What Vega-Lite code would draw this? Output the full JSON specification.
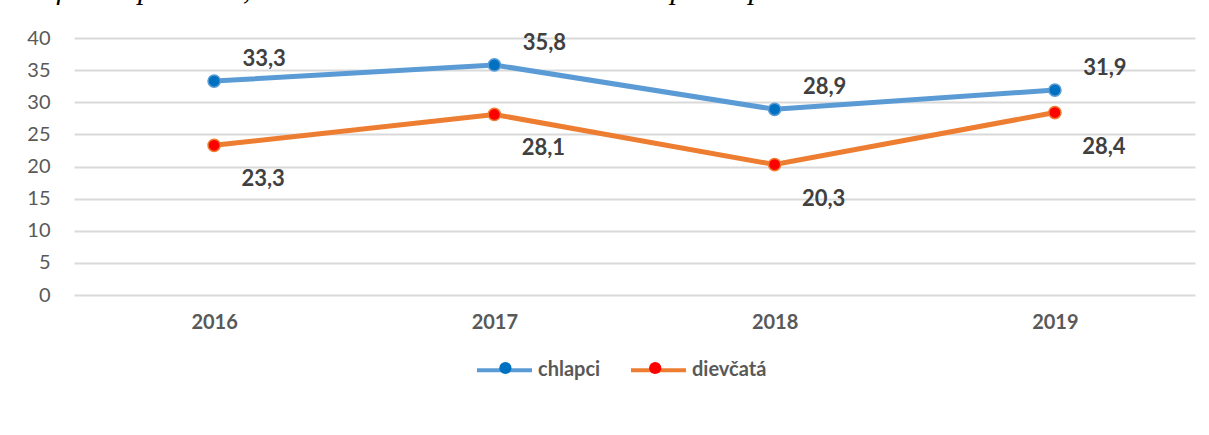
{
  "$schema": "https://vega.github.io/schema/vega-lite/v6.json",
  "width": 1121,
  "height": 257,
  "autosize": {"type": "none"},
  "padding": {"left": 74, "top": 38, "right": 14, "bottom": 140},
  "background": "white",
  "title": {
    "text": "Graf 5 Respondenti, ktorí sa kamarátili s extrémistami podľa pohlavia",
    "anchor": "start",
    "frame": "group",
    "orient": "top",
    "baseline": "alphabetic",
    "offset": -1,
    "dx": -66,
    "font": "Liberation Serif",
    "fontStyle": "italic",
    "fontWeight": "normal",
    "fontSize": 30,
    "color": "#000000"
  },
  "data": {
    "values": [
      {"rok": "2016", "pohlavie": "chlapci", "hodnota": 33.3},
      {"rok": "2017", "pohlavie": "chlapci", "hodnota": 35.8},
      {"rok": "2018", "pohlavie": "chlapci", "hodnota": 28.9},
      {"rok": "2019", "pohlavie": "chlapci", "hodnota": 31.9},
      {"rok": "2016", "pohlavie": "dievčatá", "hodnota": 23.3},
      {"rok": "2017", "pohlavie": "dievčatá", "hodnota": 28.1},
      {"rok": "2018", "pohlavie": "dievčatá", "hodnota": 20.3},
      {"rok": "2019", "pohlavie": "dievčatá", "hodnota": 28.4}
    ]
  },
  "encoding": {
    "x": {
      "field": "rok",
      "type": "ordinal",
      "scale": {"type": "point", "padding": 0.5},
      "axis": {
        "title": null,
        "labelAngle": 0,
        "labelFont": "Lato",
        "labelFontSize": 20,
        "labelFontWeight": "bold",
        "labelColor": "#595959",
        "labelPadding": 17,
        "ticks": false,
        "domain": false,
        "grid": false
      }
    },
    "y": {
      "field": "hodnota",
      "type": "quantitative",
      "scale": {"domain": [0, 40]},
      "axis": {
        "title": null,
        "values": [0, 5, 10, 15, 20, 25, 30, 35, 40],
        "labelFont": "Lato",
        "labelFontSize": 20,
        "labelColor": "#595959",
        "labelPadding": 24,
        "ticks": false,
        "domain": false,
        "grid": true,
        "gridColor": "#D9D9D9",
        "gridWidth": 2
      }
    }
  },
  "layer": [
    {
      "mark": {"type": "line", "strokeWidth": 5},
      "encoding": {
        "stroke": {
          "field": "pohlavie",
          "type": "nominal",
          "scale": {"range": ["#5B9BD5", "#ED7D31"]},
          "legend": {
            "orient": "none",
            "legendX": 401,
            "legendY": 302.5,
            "direction": "horizontal",
            "title": null,
            "padding": 0,
            "symbolType": "M-1,0L1,0",
            "symbolSize": 3025,
            "symbolStrokeWidth": 4,
            "symbolFillColor": "transparent",
            "labelFont": "Lato",
            "labelFontSize": 20,
            "labelFontWeight": "bold",
            "labelColor": "#595959",
            "labelOffset": 4,
            "columnPadding": 22
          }
        }
      }
    },
    {
      "mark": {"type": "point", "filled": true, "size": 150, "strokeWidth": 1.5, "opacity": 1},
      "encoding": {
        "fill": {
          "field": "pohlavie",
          "type": "nominal",
          "scale": {"domain": ["chlapci", "dievčatá"], "range": ["#0070C0", "#FF0000"]},
          "legend": {
            "orient": "none",
            "legendX": 422.4,
            "legendY": 321,
            "direction": "horizontal",
            "title": null,
            "padding": 0,
            "zindex": 2,
            "symbolType": "circle",
            "symbolSize": 150,
            "symbolStrokeWidth": 0,
            "symbolOpacity": 1,
            "labelExpr": "''",
            "labelFontSize": 18,
            "labelOffset": 0,
            "columnPadding": 131.8
          }
        },
        "stroke": {"field": "pohlavie", "type": "nominal", "legend": null}
      }
    },
    {
      "transform": [{"filter": "datum.pohlavie === 'chlapci'"}],
      "mark": {"type": "text", "dx": 50, "dy": -22, "font": "Lato", "fontWeight": "bold", "fontSize": 22, "color": "#404040"},
      "encoding": {"text": {"field": "hodnota", "type": "quantitative", "format": ".1f"}}
    },
    {
      "transform": [{"filter": "datum.pohlavie === 'dievčatá'"}],
      "mark": {"type": "text", "dx": 49, "dy": 34, "font": "Lato", "fontWeight": "bold", "fontSize": 22, "color": "#404040"},
      "encoding": {"text": {"field": "hodnota", "type": "quantitative", "format": ".1f"}}
    }
  ],
  "config": {
    "font": "Lato",
    "locale": {"number": {"decimal": ",", "thousands": " ", "grouping": [3], "currency": ["", " €"]}},
    "view": {"stroke": null}
  }
}
